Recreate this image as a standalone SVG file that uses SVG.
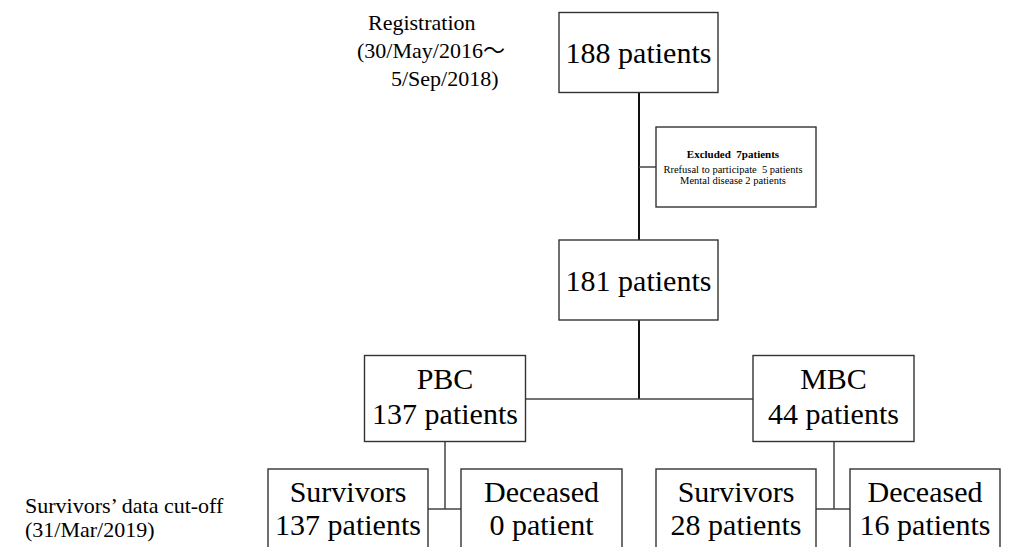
<svg xmlns="http://www.w3.org/2000/svg" width="1012" height="547" viewBox="0 0 1012 547">
<style>
.box{fill:#fff;stroke:#333;stroke-width:1.4}
.t{font-family:"Liberation Serif","Times New Roman","Noto Sans CJK JP",serif;fill:#000}
.big{font-size:30px;text-anchor:middle}
.lab{font-size:22px}
.sm{font-size:10.5px;text-anchor:middle;white-space:pre}
.hd{font-size:11px;font-weight:bold;text-anchor:middle;white-space:pre}
.ln{stroke:#444;stroke-width:1.5;fill:none}
.main{stroke:#111;stroke-width:2;fill:none}
</style>
<g id="connectors">
<path class="main" d="M639 92V240M639 320V399"/>
<path class="ln" d="M639 167H656"/>
<path class="ln" d="M525 399H753"/>
<path class="ln" d="M445 442V509M428 509H461"/>
<path class="ln" d="M834 442V509M816 509H850"/>
</g>
<g id="label-registration">
<text class="t lab" x="368" y="30">Registration</text>
<text class="t lab" x="357" y="58">(30/May/2016<tspan font-family="'Noto Sans CJK JP',sans-serif">～</tspan></text>
<text class="t lab" x="391" y="86">5/Sep/2018)</text>
</g>
<g id="label-cutoff">
<text class="t lab" x="25" y="513">Survivors’ data cut-off</text>
<text class="t lab" x="25" y="537">(31/Mar/2019)</text>
</g>
<g id="n188">
<rect class="box" x="559" y="12.5" width="159" height="80"/>
<text class="t big" x="638.5" y="63">188 patients</text>
</g>
<g id="excluded">
<rect class="box" x="656" y="127" width="160" height="80"/>
<text class="t hd" x="733" y="158" xml:space="preserve">Excluded  7patients</text>
<text class="t sm" x="733" y="173" xml:space="preserve">Rrefusal to participate  5 patients</text>
<text class="t sm" x="733" y="184">Mental disease 2 patients</text>
</g>
<g id="n181">
<rect class="box" x="559" y="240" width="159" height="80"/>
<text class="t big" x="638.5" y="291">181 patients</text>
</g>
<g id="pbc">
<rect class="box" x="364.5" y="355.5" width="161" height="86"/>
<text class="t big" x="445" y="389">PBC</text>
<text class="t big" x="445" y="424">137 patients</text>
</g>
<g id="mbc">
<rect class="box" x="753" y="355.5" width="161" height="86"/>
<text class="t big" x="833.5" y="389">MBC</text>
<text class="t big" x="833.5" y="424">44 patients</text>
</g>
<g id="pbc-survivors">
<rect class="box" x="268" y="469" width="160" height="90"/>
<text class="t big" x="348" y="502">Survivors</text>
<text class="t big" x="348" y="535">137 patients</text>
</g>
<g id="pbc-deceased">
<rect class="box" x="461" y="469" width="161" height="90"/>
<text class="t big" x="541.5" y="502">Deceased</text>
<text class="t big" x="541.5" y="535">0 patient</text>
</g>
<g id="mbc-survivors">
<rect class="box" x="656" y="469" width="160" height="90"/>
<text class="t big" x="736" y="502">Survivors</text>
<text class="t big" x="736" y="535">28 patients</text>
</g>
<g id="mbc-deceased">
<rect class="box" x="850" y="469" width="150" height="90"/>
<text class="t big" x="925" y="502">Deceased</text>
<text class="t big" x="925" y="535">16 patients</text>
</g>
</svg>
